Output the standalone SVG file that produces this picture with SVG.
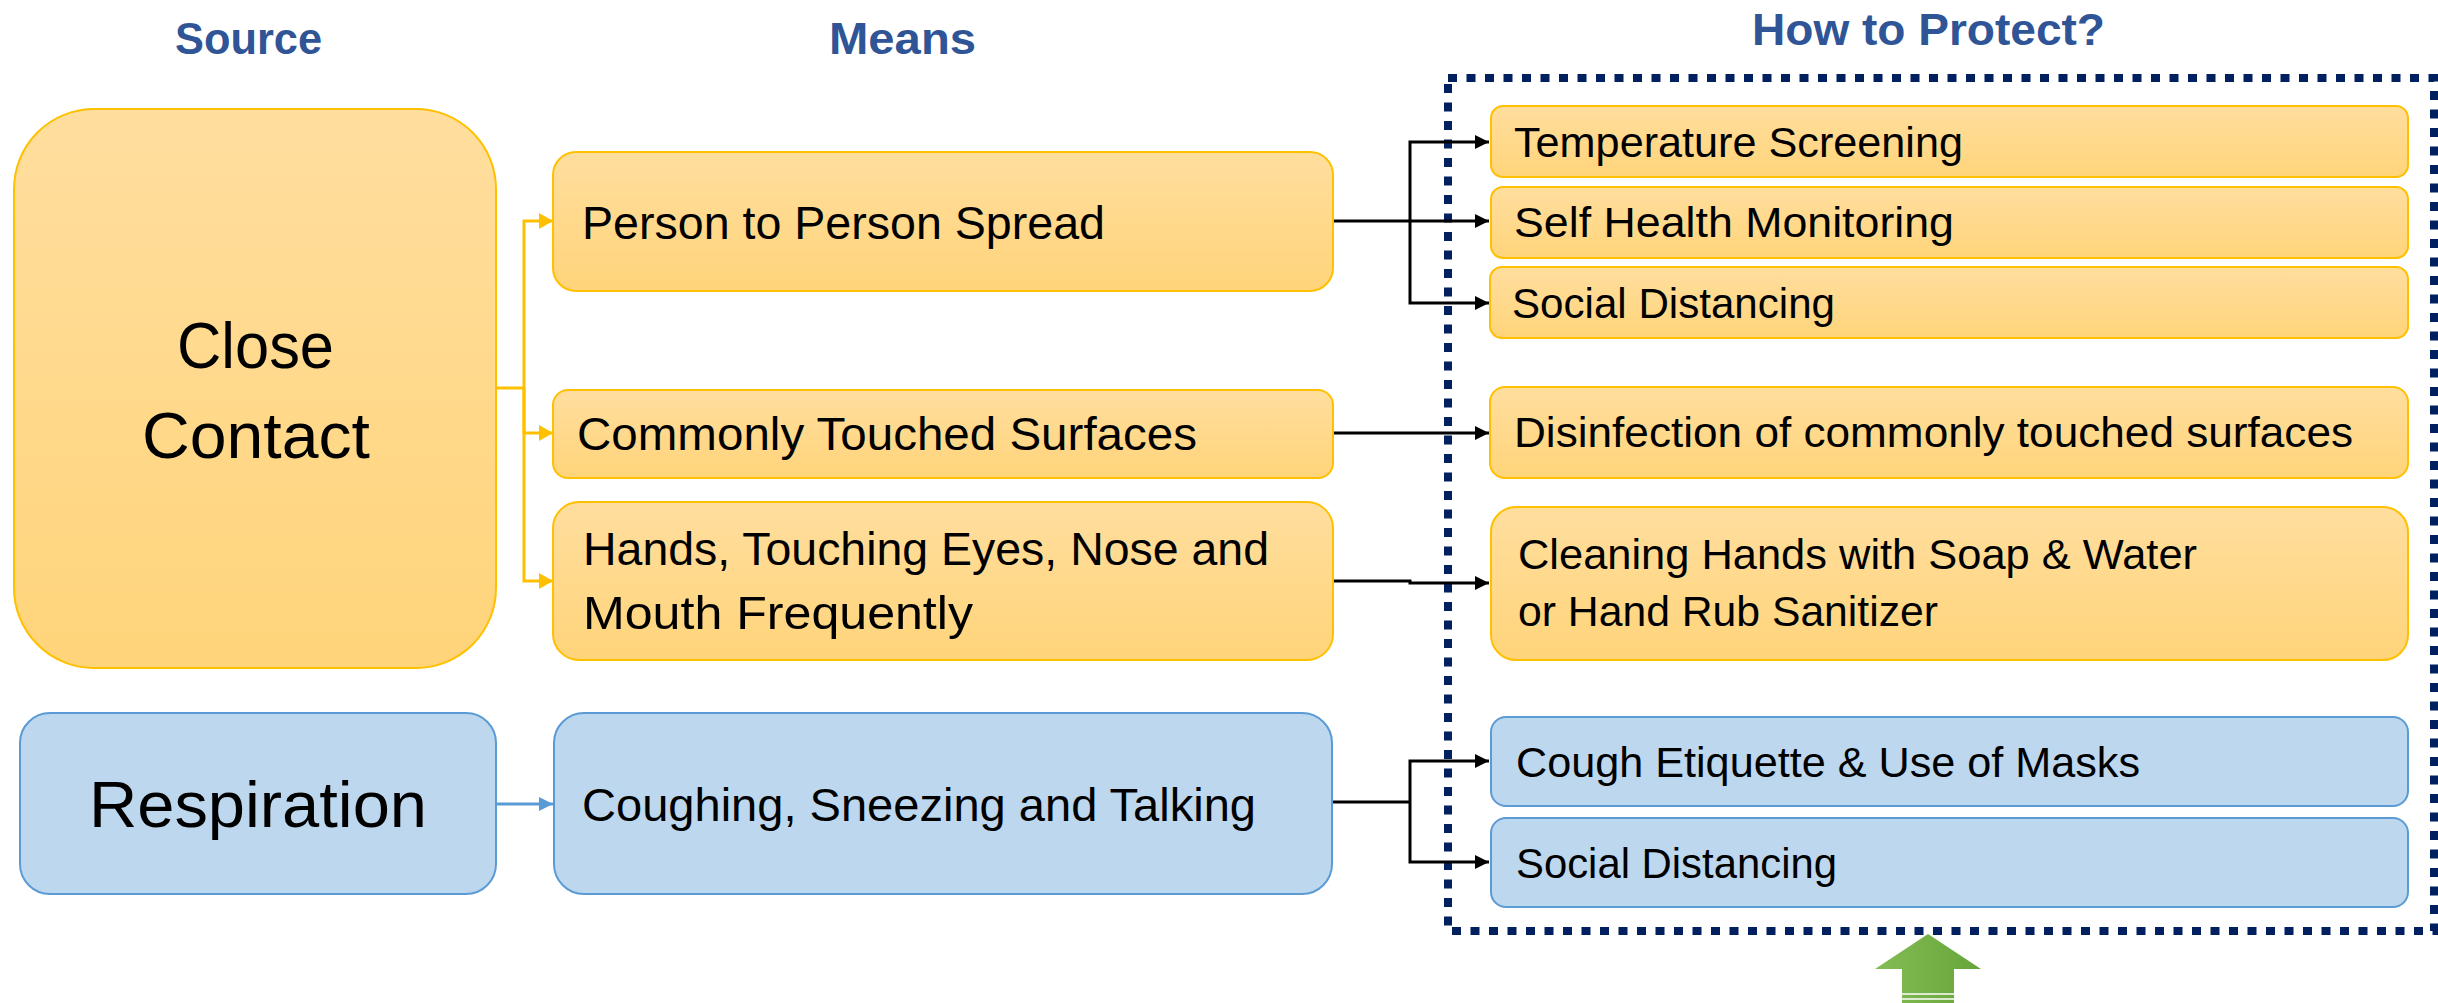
<svg xmlns="http://www.w3.org/2000/svg" width="2438" height="1003" viewBox="0 0 2438 1003">
<defs>
<linearGradient id="yg" x1="0" y1="0" x2="0" y2="1">
<stop offset="0" stop-color="#FFDE9E"/>
<stop offset="1" stop-color="#FFD47A"/>
</linearGradient>
<linearGradient id="gg" x1="0" y1="0" x2="1" y2="0">
<stop offset="0" stop-color="#84BC55"/>
<stop offset="1" stop-color="#66A53A"/>
</linearGradient>
<marker id="ab" markerUnits="userSpaceOnUse" markerWidth="14" markerHeight="14" refX="14" refY="7" orient="auto">
<path d="M0,0 L14,7 L0,14 z" fill="#000"/>
</marker>
<marker id="ay" markerUnits="userSpaceOnUse" markerWidth="14" markerHeight="16" refX="14" refY="8" orient="auto">
<path d="M0,0 L14,8 L0,16 z" fill="#FFC000"/>
</marker>
<marker id="al" markerUnits="userSpaceOnUse" markerWidth="14" markerHeight="14" refX="14" refY="7" orient="auto">
<path d="M0,0 L14,7 L0,14 z" fill="#5B9BD5"/>
</marker>
</defs>
<style>
.y{fill:url(#yg);stroke:#FFC000;stroke-width:2}
.b{fill:#BDD7EE;stroke:#5B9BD5;stroke-width:2}
.h{font-family:"Liberation Sans",Arial,sans-serif;font-weight:bold;font-size:45px;fill:#2F5597}
.t{font-family:"Liberation Sans",Arial,sans-serif;fill:#000}
.big{font-size:65px}
.m{font-size:46px}
.p{font-size:42px}
.cb{fill:none;stroke:#000;stroke-width:3}
.cy{fill:none;stroke:#FFC000;stroke-width:3}
.cl{fill:none;stroke:#5B9BD5;stroke-width:3}
</style>

<g id="headers">
<text class="h" x="175" y="54" textLength="147" lengthAdjust="spacingAndGlyphs">Source</text>
<text class="h" x="829" y="54" textLength="147" lengthAdjust="spacingAndGlyphs">Means</text>
<text class="h" x="1752" y="45" textLength="353" lengthAdjust="spacingAndGlyphs">How to Protect?</text>
</g>

<g id="protect-frame">
<rect x="1448" y="78" width="986" height="853" fill="none" stroke="#002060" stroke-width="8" stroke-dasharray="9 9.5"/>
</g>

<g id="connectors">
<path class="cy" d="M496,388 H524"/>
<path class="cy" d="M524,388 V221 H553" marker-end="url(#ay)"/>
<path class="cy" d="M524,388 V433 H553" marker-end="url(#ay)"/>
<path class="cy" d="M524,388 V581 H553" marker-end="url(#ay)"/>
<path class="cl" d="M496,804 H553" marker-end="url(#al)"/>
<path class="cb" d="M1333,221 H1489" marker-end="url(#ab)"/>
<path class="cb" d="M1410,221 V142 H1489" marker-end="url(#ab)"/>
<path class="cb" d="M1410,221 V303 H1489" marker-end="url(#ab)"/>
<path class="cb" d="M1333,433 H1489" marker-end="url(#ab)"/>
<path class="cb" d="M1333,581 H1410 V583 H1489" marker-end="url(#ab)"/>
<path class="cb" d="M1333,802 H1410"/>
<path class="cb" d="M1410,802 V761 H1489" marker-end="url(#ab)"/>
<path class="cb" d="M1410,802 V862 H1489" marker-end="url(#ab)"/>
</g>

<g id="close-contact">
<rect class="y" x="14" y="109" width="482" height="559" rx="80"/>
<text class="t big" x="177" y="368" textLength="157" lengthAdjust="spacingAndGlyphs">Close</text>
<text class="t big" x="142" y="458" textLength="228" lengthAdjust="spacingAndGlyphs">Contact</text>
</g>

<g id="respiration">
<rect class="b" x="20" y="713" width="476" height="181" rx="30"/>
<text class="t big" x="89" y="827" textLength="338" lengthAdjust="spacingAndGlyphs">Respiration</text>
</g>

<g id="person-spread">
<rect class="y" x="553" y="152" width="780" height="139" rx="23"/>
<text class="t m" x="582" y="239" textLength="523" lengthAdjust="spacingAndGlyphs">Person to Person Spread</text>
</g>

<g id="touched-surfaces">
<rect class="y" x="553" y="390" width="780" height="88" rx="15"/>
<text class="t m" x="577" y="450" textLength="620" lengthAdjust="spacingAndGlyphs">Commonly Touched Surfaces</text>
</g>

<g id="hands-touching">
<rect class="y" x="553" y="502" width="780" height="158" rx="26"/>
<text class="t m" x="583" y="565" textLength="686" lengthAdjust="spacingAndGlyphs">Hands, Touching Eyes, Nose and</text>
<text class="t m" x="583" y="629" textLength="390" lengthAdjust="spacingAndGlyphs">Mouth Frequently</text>
</g>

<g id="coughing">
<rect class="b" x="554" y="713" width="778" height="181" rx="30"/>
<text class="t m" x="582" y="821" textLength="674" lengthAdjust="spacingAndGlyphs">Coughing, Sneezing and Talking</text>
</g>

<g id="temperature">
<rect class="y" x="1491" y="106" width="917" height="71" rx="12"/>
<text class="t p" x="1514" y="157" textLength="449" lengthAdjust="spacingAndGlyphs">Temperature Screening</text>
</g>

<g id="self-health">
<rect class="y" x="1491" y="187" width="917" height="71" rx="12"/>
<text class="t p" x="1514" y="237" textLength="440" lengthAdjust="spacingAndGlyphs">Self Health Monitoring</text>
</g>

<g id="social-1">
<rect class="y" x="1490" y="267" width="918" height="71" rx="12"/>
<text class="t p" x="1512" y="318" textLength="323" lengthAdjust="spacingAndGlyphs">Social Distancing</text>
</g>

<g id="disinfection">
<rect class="y" x="1490" y="387" width="918" height="91" rx="15"/>
<text class="t p" x="1514" y="447" textLength="839" lengthAdjust="spacingAndGlyphs">Disinfection of commonly touched surfaces</text>
</g>

<g id="cleaning-hands">
<rect class="y" x="1491" y="507" width="917" height="153" rx="25"/>
<text class="t p" x="1518" y="569" textLength="679" lengthAdjust="spacingAndGlyphs">Cleaning Hands with Soap &amp; Water</text>
<text class="t p" x="1518" y="626" textLength="420" lengthAdjust="spacingAndGlyphs">or Hand Rub Sanitizer</text>
</g>

<g id="cough-etiquette">
<rect class="b" x="1491" y="717" width="917" height="89" rx="15"/>
<text class="t p" x="1516" y="777" textLength="624" lengthAdjust="spacingAndGlyphs">Cough Etiquette &amp; Use of Masks</text>
</g>

<g id="social-2">
<rect class="b" x="1491" y="818" width="917" height="89" rx="15"/>
<text class="t p" x="1516" y="878" textLength="321" lengthAdjust="spacingAndGlyphs">Social Distancing</text>
</g>

<g id="green-arrow">
<polygon points="1928,934 1981,969 1954,969 1954,1003 1902,1003 1902,969 1875,969" fill="url(#gg)"/>
<line x1="1902" y1="994" x2="1954" y2="994" stroke="#fff" stroke-width="1.5"/>
<line x1="1902" y1="999" x2="1954" y2="999" stroke="#fff" stroke-width="1.5"/>
</g>
</svg>
